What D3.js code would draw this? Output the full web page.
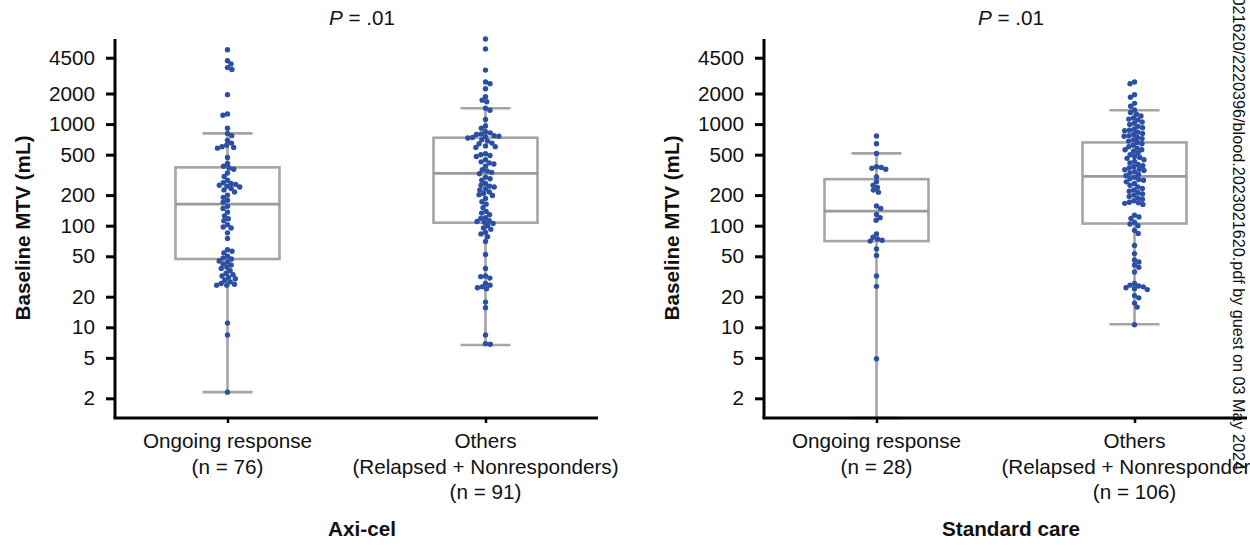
<!DOCTYPE html>
<html>
<head>
<meta charset="utf-8">
<script src="https://cdn.jsdelivr.net/npm/d3@7"></script>
<style>
  body { margin: 0; background: #fff; }
  text { font-family: "Liberation Sans", Arial, sans-serif; fill: #111; }
</style>
</head>
<body>
<div id="chart"></div>
<script>
// Tick values for the log y axis
const yTicks = [2, 5, 10, 20, 50, 100, 200, 500, 1000, 2000, 4500];
const categories = ["Ongoing response", "Others"];

// Axis labels per panel (one array of lines per category)
const axiLabels = [["Ongoing response", "(n = 76)"], ["Others", "(Relapsed + Nonresponders)", "(n = 91)"]];
const socLabels = [["Ongoing response", "(n = 28)"], ["Others", "(Relapsed + Nonresponders)", "(n = 106)"]];

// Box stats: [low whisker, Q1, median, Q3, high whisker]
const axiOngoingStats = [2.3, 47, 163, 375, 811];
const axiOthersStats = [6.7, 107, 327, 734, 1430];
const socOngoingStats = [1.0, 70.5, 139, 287, 515];
const socOthersStats = [10.7, 105, 306, 660, 1370];

// Baseline MTV (mL) of each patient
const axiOngoing = [5400, 4200, 3900, 3600, 3450, 1950, 1260, 1220, 910, 810, 770, 690, 650, 620, 600, 590, 580,
  470, 410, 385, 370, 360, 330, 305, 280, 265, 260, 255, 250, 245, 240, 232, 225, 215, 200, 190, 178, 170, 155, 148,
  136, 125, 117, 112, 102, 97, 95, 85, 75, 58, 56, 54, 50, 48, 47, 45, 44, 42, 41, 39, 38, 36, 34, 33, 32, 31, 30,
  29, 28, 27, 26.5, 26, 26, 11, 8.4, 2.3];
const axiOthers = [6900, 5500, 3400, 2600, 2500, 2230, 1860, 1720, 1660, 1430, 1370, 1110, 960, 910, 840, 820, 800,
  790, 770, 760, 750, 740, 730, 700, 680, 650, 640, 610, 600, 590, 510, 500, 490, 480, 445, 425, 415, 405, 385, 355,
  345, 335, 325, 300, 290, 280, 260, 250, 245, 240, 230, 225, 215, 208, 202, 198, 185, 172, 163, 150, 138, 133, 128,
  120, 118, 112, 110, 108, 105, 100, 95, 92, 86, 83, 78, 70, 52, 38, 32, 31.5, 30.5, 27, 26, 25, 24.5, 24, 17.7,
  15.6, 8.4, 6.9, 6.8];
const socOngoing = [763, 641, 515, 380, 375, 368, 360, 302, 270, 250, 238, 224, 214, 156, 148, 129, 120, 113, 83,
  77, 74, 72, 70.5, 59, 51, 32, 25.3, 4.9];
const socOthers = [2600, 2500, 1950, 1840, 1600, 1500, 1380, 1300, 1250, 1200, 1150, 1120, 1100, 1050, 1020, 990,
  950, 920, 890, 870, 860, 830, 810, 790, 770, 760, 740, 720, 700, 680, 660, 640, 620, 600, 580, 560, 560, 540, 520,
  500, 480, 470, 460, 445, 430, 415, 400, 390, 380, 370, 360, 355, 350, 340, 330, 320, 310, 300, 290, 285, 280, 270,
  260, 250, 240, 232, 225, 218, 212, 205, 200, 194, 188, 182, 176, 170, 168, 166, 162, 127, 122, 118, 108, 104, 100,
  90, 84, 64, 53, 46, 44, 41, 39, 35, 27, 26, 25.5, 25, 24.5, 24, 23.5, 20.5, 19.5, 17.3, 15.8, 10.6];

const pTitle = ".01";
const watermark = "021620/2220396/blood.2023021620.pdf by guest on 03 May 2024";

const panels = [
  { name: "Axi-cel", labels: axiLabels, groups: [axiOngoing, axiOthers], stats: [axiOngoingStats, axiOthersStats] },
  { name: "Standard care", labels: socLabels, groups: [socOngoing, socOthers], stats: [socOngoingStats, socOthersStats] }
];

const width = 1250, height = 547;
const margin = { top: 39, left: 115, bottom: 130 };
const plotW = 483, plotH = height - margin.top - margin.bottom;
const panelStep = 649;
const fontSize = "20.7px";

const boxColor = "#a5a5a5", dotColor = "#2b4fa4";

const svg = d3.select("#chart")
  .append("svg")
  .attr("width", width)
  .attr("height", height);

// Log scale shared by both panels
const y = d3.scaleLog()
  .domain([1.28, 6880])
  .range([plotH + 1, 0])
  .clamp(true);

const x = d3.scalePoint()
  .domain(categories)
  .range([0, plotW])
  .padding(0.436);

// Simple dodge so that points do not sit on top of each other
function dodge(values, dist) {
  const placed = [];
  values.forEach((v, i) => {
    const py = y(v);
    const near = placed.filter(p => Math.abs(p.y - py) < dist);
    const cands = [0];
    near.forEach(p => {
      const w = Math.sqrt(dist * dist - (p.y - py) * (p.y - py));
      cands.push(p.x - w, p.x + w);
    });
    const ok = cands.filter(c => near.every(p => (c - p.x) ** 2 + (p.y - py) ** 2 >= dist * dist - 0.01));
    ok.sort((a, b) => Math.abs(a) - Math.abs(b) || (i % 2 ? a - b : b - a));
    placed.push({ v: v, x: ok[0], y: py });
  });
  return placed;
}

panels.forEach((panel, pi) => {
  const ox = margin.left + pi * panelStep;
  const g = svg.append("g")
    .attr("transform", "translate(" + ox + "," + margin.top + ")");

  // Boxes and whiskers
  panel.stats.forEach((s, ci) => {
    const cx = x(categories[ci]);
    const bw = 104, cw = 50;
    g.append("line")
      .attr("x1", cx).attr("x2", cx)
      .attr("y1", y(s[0])).attr("y2", y(s[4]))
      .attr("stroke", boxColor).attr("stroke-width", 2.6);
    [s[0], s[4]].forEach(v => {
      g.append("line")
        .attr("x1", cx - cw / 2).attr("x2", cx + cw / 2)
        .attr("y1", y(v)).attr("y2", y(v))
        .attr("stroke", boxColor).attr("stroke-width", 2.6);
    });
    g.append("rect")
      .attr("x", cx - bw / 2)
      .attr("y", y(s[3]))
      .attr("width", bw)
      .attr("height", y(s[1]) - y(s[3]))
      .attr("fill", "#fff")
      .attr("stroke", boxColor)
      .attr("stroke-width", 2.6);
    g.append("line")
      .attr("x1", cx - bw / 2).attr("x2", cx + bw / 2)
      .attr("y1", y(s[2])).attr("y2", y(s[2]))
      .attr("stroke", "#999").attr("stroke-width", 2.6);
  });

  // Patient points
  panel.groups.forEach((vals, ci) => {
    const cx = x(categories[ci]);
    g.selectAll(".dot-" + ci)
      .data(dodge(vals, 4.8))
      .join("circle")
      .attr("class", "dot-" + ci)
      .attr("cx", d => cx + d.x)
      .attr("cy", d => d.y)
      .attr("r", 2.7)
      .attr("fill", dotColor);
  });

  // y axis
  const yAxis = g.append("g")
    .call(d3.axisLeft(y).tickValues(yTicks).tickFormat(d3.format("d")).tickSize(9).tickPadding(11));
  yAxis.select(".domain").attr("stroke-width", 3).attr("d", "M0,0V" + (plotH + 1));
  yAxis.selectAll(".tick line").attr("stroke-width", 3);
  yAxis.selectAll("text").style("font-size", fontSize).attr("fill", "#111");

  // x axis
  const xAxis = g.append("g")
    .attr("transform", "translate(0," + (plotH + 1) + ")")
    .call(d3.axisBottom(x).tickSize(5).tickFormat(""));
  xAxis.select(".domain").attr("stroke-width", 3).attr("d", "M-1.5,0H" + plotW);
  xAxis.selectAll(".tick line").attr("stroke-width", 2.5);

  // Category labels
  panel.labels.forEach((lines, ci) => {
    const t = g.append("text")
      .attr("text-anchor", "middle")
      .style("font-size", fontSize)
      .attr("transform", "translate(" + x(categories[ci]) + "," + (plotH + 31) + ")");
    lines.forEach((l, li) => {
      t.append("tspan").attr("x", 0).attr("dy", li ? 25.5 : 0).text(l);
    });
  });

  // y title
  g.append("text")
    .attr("transform", "translate(" + (23 - margin.left + 7) + "," + (228 - margin.top) + ") rotate(-90)")
    .attr("text-anchor", "middle")
    .style("font-size", fontSize)
    .style("font-weight", "bold")
    .text("Baseline MTV (mL)");

  // P value above panel
  const pt = g.append("text")
    .attr("x", 247)
    .attr("y", 25 - margin.top)
    .attr("text-anchor", "middle")
    .style("font-size", fontSize);
  pt.append("tspan").style("font-style", "italic").text("P");
  pt.append("tspan").text(" = " + pTitle);

  // Panel name
  g.append("text")
    .attr("x", 247)
    .attr("y", 536 - margin.top)
    .attr("text-anchor", "middle")
    .style("font-size", fontSize)
    .style("font-weight", "bold")
    .text(panel.name);
});

// Vertical download note along the right edge
svg.append("text")
  .attr("transform", "translate(1233,470) rotate(90)")
  .attr("text-anchor", "end")
  .style("font-size", "16.2px")
  .attr("fill", "#222")
  .text(watermark);
</script>
</body>
</html>
